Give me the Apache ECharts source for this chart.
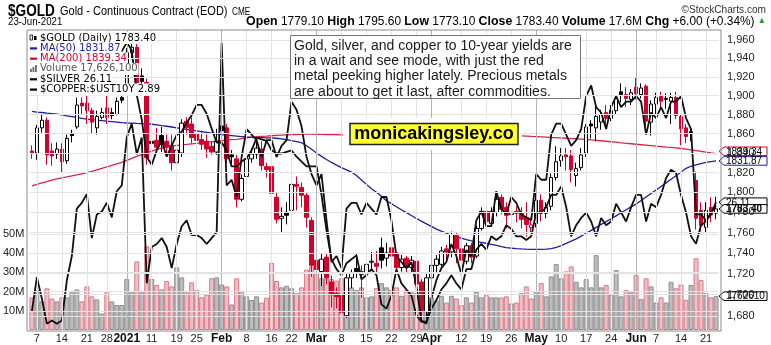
<!DOCTYPE html>
<html><head><meta charset="utf-8">
<script src="https://cdn.jsdelivr.net/npm/echarts@6/dist/echarts.min.js"></script>
<style>html,body{margin:0;padding:0;background:#fff}#c{width:771px;height:345px}</style>
</head><body><div id="c"></div><script>
// Trading days shown on the chart
const dates = [
'2020-12-04','2020-12-07','2020-12-08','2020-12-09','2020-12-10','2020-12-11',
'2020-12-14','2020-12-15','2020-12-16','2020-12-17','2020-12-18',
'2020-12-21','2020-12-22','2020-12-23','2020-12-24',
'2020-12-28','2020-12-29','2020-12-30','2020-12-31',
'2021-01-04','2021-01-05','2021-01-06','2021-01-07','2021-01-08',
'2021-01-11','2021-01-12','2021-01-13','2021-01-14','2021-01-15',
'2021-01-19','2021-01-20','2021-01-21','2021-01-22',
'2021-01-25','2021-01-26','2021-01-27','2021-01-28','2021-01-29',
'2021-02-01','2021-02-02','2021-02-03','2021-02-04','2021-02-05',
'2021-02-08','2021-02-09','2021-02-10','2021-02-11','2021-02-12',
'2021-02-16','2021-02-17','2021-02-18','2021-02-19',
'2021-02-22','2021-02-23','2021-02-24','2021-02-25','2021-02-26',
'2021-03-01','2021-03-02','2021-03-03','2021-03-04','2021-03-05',
'2021-03-08','2021-03-09','2021-03-10','2021-03-11','2021-03-12',
'2021-03-15','2021-03-16','2021-03-17','2021-03-18','2021-03-19',
'2021-03-22','2021-03-23','2021-03-24','2021-03-25','2021-03-26',
'2021-03-29','2021-03-30','2021-03-31','2021-04-01',
'2021-04-05','2021-04-06','2021-04-07','2021-04-08','2021-04-09',
'2021-04-12','2021-04-13','2021-04-14','2021-04-15','2021-04-16',
'2021-04-19','2021-04-20','2021-04-21','2021-04-22','2021-04-23',
'2021-04-26','2021-04-27','2021-04-28','2021-04-29','2021-04-30',
'2021-05-03','2021-05-04','2021-05-05','2021-05-06','2021-05-07',
'2021-05-10','2021-05-11','2021-05-12','2021-05-13','2021-05-14',
'2021-05-17','2021-05-18','2021-05-19','2021-05-20','2021-05-21',
'2021-05-24','2021-05-25','2021-05-26','2021-05-27','2021-05-28',
'2021-06-01','2021-06-02','2021-06-03','2021-06-04',
'2021-06-07','2021-06-08','2021-06-09','2021-06-10','2021-06-11',
'2021-06-14','2021-06-15','2021-06-16','2021-06-17','2021-06-18',
'2021-06-21','2021-06-22','2021-06-23'];

// Gold daily prices
const priorClose = 1841.2;
const opens = [1842,1840,1866,1874,1842,1839,1844,1832,1860,1867,1892,1892,1884,1866,1877,1887,1882,1880,1898,
1905,1946,1952,1921,1914,1852,1853,1858,1852,1848,1830,1840,1873,1870,1860,1854,1852,1847,1841,
1868,1866,1838,1834,1793,1816,1834,1839,1844,1826,1826,1795,1774,1780,1782,1808,1805,1797,1772,
1733,1722,1736,1712,1701,1700,1680,1716,1725,1722,1720,1731,1730,1745,1735,1745,1740,1726,1735,1726,1732,1712,1684,1716,
1728,1729,1744,1741,1757,1744,1732,1747,1737,1764,1781,1769,1780,1795,1785,1778,1781,1779,1775,1765,
1769,1792,1779,1786,1815,1832,1838,1837,1817,1825,1840,1870,1866,1872,1882,1876,1884,1904,1901,1896,
1909,1901,1910,1872,1891,1899,1897,1894,1898,1878,1866,1862,1812,1782,1765,1785,1779.1];
const highs = [1848,1869,1880,1877,1850,1851,1850,1859,1864,1898,1898,1906,1887,1884,1887,1900,1887,1898,1902,
1951,1959,1959,1929,1918,1856,1866,1867,1859,1859,1850,1875,1877,1877,1866,1863,1859,1852,1865,
1876,1870,1843,1838,1818,1838,1845,1855,1852,1830,1829,1800,1785,1790,1810,1816,1810,1800,1775,
1757,1740,1740,1718,1707,1703,1720,1724,1740,1728,1733,1741,1742,1755,1750,1748,1741,1738,1737,1737,1735,1715,1720,1733,
1738,1746,1748,1761,1760,1749,1750,1750,1767,1785,1791,1785,1797,1798,1790,1788,1786,1785,1790,1775,
1800,1798,1790,1819,1847,1845,1845,1843,1830,1845,1870,1874,1892,1885,1890,1890,1900,1913,1909,1907,
1919,1913,1912,1895,1903,1904,1902,1903,1904,1880,1870,1866,1821,1790,1790,1795,1795.6];
const lows = [1834,1833,1861,1828,1827,1834,1820,1829,1851,1865,1880,1870,1860,1859,1875,1870,1875,1879,1892,
1901,1940,1906,1903,1828,1817,1843,1841,1836,1822,1806,1836,1859,1850,1846,1843,1835,1838,1838,
1857,1830,1829,1785,1791,1811,1830,1834,1822,1815,1794,1769,1760,1768,1778,1782,1785,1765,1717,
1718,1708,1710,1688,1687,1676,1678,1706,1716,1697,1712,1724,1719,1725,1727,1725,1722,1722,1720,1720,1705,1680,1678,1708,
1721,1727,1732,1736,1730,1730,1729,1730,1735,1762,1761,1766,1776,1778,1764,1773,1770,1764,1756,1760,
1765,1771,1774,1782,1812,1826,1822,1810,1806,1822,1836,1855,1852,1864,1869,1873,1880,1893,1888,1890,
1896,1897,1867,1858,1880,1885,1886,1870,1875,1848,1850,1852,1763,1761,1760,1770,1773.1];
const closes = [1840,1866,1874,1838,1837,1844,1831,1855,1858,1890,1889,1884,1872,1878,1882,1877,1879,1894,1895,
1946,1952,1914,1915,1835,1850,1846,1849,1846,1830,1843,1871,1866,1856,1853,1849,1844,1841,1852,
1863,1834,1836,1793,1814,1834,1839,1845,1827,1823,1799,1773,1776,1777,1808,1806,1797,1775,1728,
1724,1734,1716,1700,1698,1683,1716,1721,1722,1719,1729,1732,1727,1733,1740,1737,1726,1734,1726,1733,1710,1685,1716,1728,
1734,1742,1741,1758,1744,1733,1747,1736,1764,1781,1771,1781,1793,1783,1777,1780,1779,1773,1768,1767.5,
1792,1779,1785,1815,1831,1837,1836,1823,1824,1838,1867,1868,1878,1880,1876,1884,1897,1901,1897,1903,
1902,1908,1873,1891,1898,1894,1896,1898,1879,1865,1857,1860,1774,1767,1782,1777.4,1783.4];
// Daily volume, millions
const volumes = [17.0,20.8,14.9,21.7,16.4,14.9,17.0,17.0,19.6,21.1,14.9,22.7,17.5,15.9,8.6,19.6,14.9,13.0,13.0,
26.5,19.6,35.7,19.6,43.6,26.5,23.4,21.1,25.5,22.7,32.6,27.4,19.6,24.8,20.8,17.0,18.5,26.9,27.4,
23.7,22.7,13.3,26.9,20.3,17.5,15.6,17.5,14.3,16.8,34.9,25.5,22.2,23.0,21.7,19.2,22.2,31.4,33.1,
30.0,26.9,26.9,26.5,25.7,26.9,26.5,22.2,20.8,22.2,17.0,17.5,21.8,24.4,22.2,21.0,22.2,17.8,20.8,19.6,19.2,20.4,20.8,17.0,
15.2,17.8,14.3,17.8,16.4,13.0,17.0,14.3,19.9,17.0,18.2,17.0,17.0,16.9,17.5,13.8,14.3,19.2,22.7,16.4,
20.3,24.4,17.5,27.9,34.3,26.9,30.5,33.1,25.1,22.2,26.5,22.2,39.0,22.2,23.4,18.2,31.2,17.5,20.8,19.6,
28.6,16.1,26.9,22.7,14.3,17.0,14.3,25.1,21.7,23.7,15.7,23.4,37.3,26.0,19.2,17.0,17.6261];
// Moving averages
const ma50 = [1883.2,1882.6,1882.1,1881.5,1881.0,1880.4,1879.5,1878.6,1877.8,1876.9,1876.0,1875.1,1874.6,1874.1,1873.6,1873.0,1872.5,1872.0,1871.4,
1871.1,1870.9,1870.6,1870.4,1870.1,1869.8,1869.2,1868.4,1867.7,1866.9,1866.1,1865.3,1864.5,1863.7,1862.9,1862.1,1861.3,1860.5,1859.7,
1859.0,1858.5,1858.0,1857.5,1857.0,1856.5,1856.1,1855.9,1855.8,1855.7,1855.5,1855.2,1854.6,1853.8,1852.8,1851.7,1850.6,1847.5,1843.8,
1840.0,1836.5,1833.3,1830.3,1827.5,1825.0,1822.8,1820.5,1817.0,1812.5,1808.0,1803.5,1800.0,1796.0,1791.5,1788.6,1785.6,1782.6,1779.7,1776.8,1773.9,1771.2,1768.6,1766.0,
1763.4,1761.3,1759.3,1757.4,1755.8,1754.4,1753.0,1751.9,1751.1,1750.3,1749.5,1748.4,1747.3,1746.1,1745.3,1744.8,1744.3,1743.9,1743.7,1743.6,
1743.6,1743.6,1743.8,1744.2,1745.5,1747.2,1749.3,1751.5,1753.8,1756.5,1759.3,1762.1,1765.1,1768.0,1770.8,1773.6,1776.5,1779.6,1782.5,1785.4,
1788.2,1791.7,1795.3,1798.8,1802.3,1805.9,1809.5,1813.1,1816.8,1820.6,1824.3,1826.4,1827.9,1829.2,1830.3,1831.1,1831.87];
const ma200 = [1806.6,1808.0,1809.4,1810.8,1812.3,1813.5,1814.5,1815.5,1816.6,1817.6,1818.7,1819.8,1821.2,1822.7,1824.2,1825.8,1827.3,1828.8,1830.3,
1832.4,1834.5,1836.6,1838.4,1840.2,1842.0,1843.6,1844.9,1846.2,1847.3,1847.8,1848.3,1848.8,1849.4,1850.0,1850.6,1851.1,1851.6,1852.2,
1852.7,1853.2,1853.7,1854.1,1854.9,1855.6,1856.3,1856.8,1857.1,1857.4,1857.8,1858.1,1858.4,1858.7,1858.9,1859.1,1859.3,1859.4,1859.4,
1859.3,1859.2,1859.1,1859.0,1858.9,1858.7,1858.6,1858.5,1858.5,1858.5,1858.5,1858.5,1858.4,1858.4,1858.4,1858.4,1858.3,1858.3,1858.3,1858.3,1858.2,1858.2,1858.2,1858.2,
1858.1,1858.1,1858.1,1858.1,1858.0,1858.0,1858.0,1858.0,1857.9,1857.9,1857.9,1857.9,1857.8,1857.8,1857.8,1857.7,1857.7,1857.6,1857.4,1857.1,
1856.9,1856.6,1856.3,1856.0,1855.8,1855.5,1855.2,1854.9,1854.7,1854.4,1854.1,1853.6,1853.1,1852.6,1852.1,1851.6,1851.1,1850.5,1850.0,1849.5,
1849.0,1848.5,1848.0,1847.5,1847.0,1846.6,1846.1,1845.7,1845.2,1844.6,1843.9,1843.1,1842.4,1841.6,1840.8,1840.0,1839.34];
// Overlays
const silver = [24.3,24.85,24.5,24.1,24.15,24.1,24.15,24.8,25.2,26.0,26.1,26.25,25.5,25.9,25.95,26.1,25.85,26.3,26.4,
27.25,27.5,26.95,27.25,24.75,25.35,25.4,25.5,25.35,25.0,25.4,25.7,25.8,25.55,25.55,25.5,25.4,25.5,25.6,
29.0,26.4,26.5,26.2,26.9,27.4,27.3,27.2,26.9,27.2,27.2,26.9,27.1,27.2,27.9,27.75,27.45,26.9,26.6,
26.4,26.6,25.8,25.1,25.2,25.0,26.0,26.1,26.1,25.9,26.1,26.0,25.9,26.2,26.2,25.8,25.2,25.1,25.0,25.1,24.7,24.15,24.1,24.5,
24.8,25.0,25.1,25.4,25.2,24.9,25.3,25.2,25.8,25.95,25.7,25.7,26.3,26.0,25.9,26.2,26.1,25.9,25.85,25.8,
26.6,26.5,26.5,27.3,27.5,27.5,27.3,27.1,27.2,27.4,28.0,28.2,27.8,27.7,27.4,27.8,28.0,27.8,27.9,27.9,
28.0,27.9,27.3,27.7,27.6,27.8,27.6,27.9,27.9,28.0,27.6,27.4,25.9,25.9,25.8,25.9,26.11];
const copperYield = [3.80,3.82,3.85,3.80,3.86,3.84,3.85,3.80,3.78,3.78,3.76,3.80,3.88,3.84,3.86,3.88,3.90,3.92,3.91,
3.98,3.92,3.59,3.42,3.18,3.13,3.22,3.28,3.18,3.25,3.32,3.34,3.40,3.45,3.52,3.52,3.46,3.36,3.27,
3.27,3.22,3.12,3.12,3.15,3.17,3.22,3.30,3.29,3.28,3.22,3.20,3.20,3.21,3.22,3.18,3.15,3.12,3.12,
3.12,2.95,2.75,2.60,2.55,2.52,2.58,2.60,2.62,2.50,2.52,2.55,2.52,2.38,2.36,2.42,2.55,2.48,2.45,2.42,2.33,2.30,2.30,2.36,
2.40,2.45,2.48,2.52,2.48,2.45,2.55,2.55,2.65,2.68,2.65,2.72,2.70,2.72,2.78,2.76,2.72,2.72,2.70,2.72,
2.85,2.85,2.88,2.95,2.95,3.00,2.88,2.72,2.78,2.82,2.85,2.80,2.72,2.82,2.78,2.80,2.90,2.85,2.80,2.88,
2.95,2.95,2.80,2.90,2.88,2.95,3.05,3.10,3.08,2.95,2.85,2.72,2.68,2.78,2.80,2.85,2.89];

// Axis labels
const priceTicks = [1680,1700,1720,1740,1760,1780,1800,1820,1840,1860,1880,1900,1920,1940,1960];
const volTicks = [10,20,30,40,50];
const tickDates = ['2020-12-07','2020-12-14','2020-12-21','2020-12-28','2021-01-04','2021-01-11','2021-01-19','2021-01-25',
'2021-02-01','2021-02-08','2021-02-16','2021-02-22','2021-03-01','2021-03-08','2021-03-15','2021-03-22','2021-03-29',
'2021-04-01','2021-04-12','2021-04-19','2021-04-26','2021-05-03','2021-05-10','2021-05-17','2021-05-24',
'2021-06-01','2021-06-07','2021-06-14','2021-06-21'];
const tickTexts = ['7','14','21','28','2021','11','19','25','Feb','8','16','22','Mar','8','15','22','29',
'Apr','12','19','26','May','10','17','24','Jun','7','14','21'];

const RED = '#d2002c', BLACK = '#000', BLUE = '#1e1e9e';
const N = dates.length, L = N - 1;
const gain = closes.map((c, i) => c >= (i === 0 ? priorClose : closes[i - 1]));

const candleData = dates.map((d, i) => {
  const col = gain[i] ? BLACK : RED;
  const fill = closes[i] >= opens[i] ? '#fff' : col;
  return { value: [opens[i], closes[i], lows[i], highs[i]],
    itemStyle: { color: fill, color0: fill, borderColor: col, borderColor0: col, borderWidth: 1 } };
});
const volData = volumes.map((v, i) => ({ value: v,
  itemStyle: gain[i] ? { color: '#bdbdbd', borderColor: '#8e8e8e' } : { color: '#efbfc5', borderColor: '#d9798a' } }));

const tickMap = {};
tickDates.forEach((d, j) => { tickMap[d] = tickTexts[j]; });
const isBold = t => /[A-Za-z]/.test(t) || t.length === 4;

const GRID_L = 27.5, GRID_R = 718.5, TOP = 30, BOTTOM = 331;
const chart = echarts.init(document.getElementById('c'));
const lab = 'Liberation Sans, Arial, sans-serif';

chart.setOption({
  animation: false,
  backgroundColor: '#fff',
  grid: { left: GRID_L, right: 771 - GRID_R, top: TOP, bottom: 345 - BOTTOM },
  xAxis: {
    type: 'category', data: dates, boundaryGap: true,
    axisLine: { show: false }, axisTick: { show: false }, splitLine: { show: false },
    axisLabel: {
      interval: (i, v) => tickMap[v] !== undefined, margin: 3,
      fontFamily: lab, fontSize: 11, color: '#222',
      formatter: v => { const t = tickMap[v]; return isBold(t) ? '{b|' + t + '}' : t; },
      rich: { b: { fontWeight: 'bold', fontSize: 12, fontFamily: lab, color: '#111' } }
    }
  },
  yAxis: [
    { type: 'log', logBase: 10, min: 1666.7, max: 1970.9, position: 'right', offset: 2.5,
      axisLine: { show: false }, axisTick: { show: false }, splitLine: { show: false },
      axisLabel: { customValues: priceTicks, margin: 6, fontFamily: lab, fontSize: 11, color: '#222' } },
    { type: 'value', min: 0, max: 156.2, position: 'left',
      axisLine: { show: false }, axisTick: { show: false }, splitLine: { show: false },
      axisLabel: { customValues: volTicks, margin: 5, fontFamily: lab, fontSize: 11, color: '#222',
        formatter: v => v + 'M' } },
    { type: 'log', min: 24.0, max: 29.25, show: false },
    { type: 'log', min: 2.263, max: 4.078, show: false }
  ],
  series: [
    { type: 'line', yAxisIndex: 0, data: dates.map(() => null), silent: true, z: 0,
      markLine: { silent: true, symbol: 'none', label: { show: false }, animation: false,
        data: priceTicks.map(v => ({ yAxis: v, lineStyle: { color: '#e3e3e3', width: 1, type: 'solid' } }))
          .concat(tickDates.map((d, j) => ({ xAxis: d,
            lineStyle: { color: isBold(tickTexts[j]) ? '#b4b4b4' : '#e3e3e3', width: 1, type: 'solid' } }))) } },
    { type: 'line', yAxisIndex: 1, data: dates.map(() => null), silent: true, z: 0,
      markLine: { silent: true, symbol: 'none', label: { show: false }, animation: false,
        data: volTicks.map(v => ({ yAxis: v, lineStyle: { color: '#e3e3e3', width: 1, type: 'solid' } })) } },
    { name: 'Volume', type: 'bar', yAxisIndex: 1, data: volData, barWidth: 5, z: 1,
      itemStyle: { borderWidth: 1 } },
    { name: 'MA(200)', type: 'line', yAxisIndex: 0, data: ma200, showSymbol: false, z: 2,
      lineStyle: { color: '#d8264a', width: 1.3 } },
    { name: 'MA(50)', type: 'line', yAxisIndex: 0, data: ma50, showSymbol: false, z: 2,
      lineStyle: { color: BLUE, width: 1.3 } },
    { name: '$GOLD', type: 'candlestick', yAxisIndex: 0, data: candleData, barWidth: 4, z: 3 },
    { name: '$SILVER', type: 'line', yAxisIndex: 2, data: silver, showSymbol: false, z: 4,
      lineStyle: { color: '#111', width: 1.8 } },
    { name: '$COPPER:$UST10Y', type: 'line', yAxisIndex: 3, data: copperYield, showSymbol: false, z: 4,
      lineStyle: { color: '#111', width: 1.8 } }
  ]
});

// Overlay graphics: frame, headers, legend, notes, value tags
const py = v => chart.convertToPixel({ yAxisIndex: 0 }, v);
const vy = v => chart.convertToPixel({ yAxisIndex: 1 }, v);
const sy = v => chart.convertToPixel({ yAxisIndex: 2 }, v);
const f2 = v => v.toFixed(2);
const dv = "'DejaVu Sans', Verdana, sans-serif";

// condensed header text: Arial squeezed horizontally
function htext(x, y, text, font, sx, extra) {
  return Object.assign({ type: 'text', z: 300, x: x, y: y, scaleX: sx,
    style: Object.assign({ x: 0, y: 0, text: text, font: font, fill: '#000', verticalAlign: 'middle' }, extra || {}) });
}

function tag(y, text, border, bold) {
  return { type: 'group', z: 300, children: [
    { type: 'polygon', shape: { points: [[719, y], [724, y - 4.3], [767, y - 4.3], [767, y + 4.3], [724, y + 4.3]] },
      style: { fill: '#fff', stroke: border, lineWidth: 1 } },
    { type: 'text', style: { x: 726, y: y + 0.6, text: text, fill: '#000', font: (bold ? 'bold ' : '') + '10px ' + lab,
      verticalAlign: 'middle', align: 'left', width: 41, overflow: 'truncate', ellipsis: '' } }
  ] };
}

// moving-average tags are nudged apart so both stay readable
const ma50Y = py(ma50[L]);
const ma200Y = Math.min(py(ma200[L]), ma50Y - 9.6);

const chg = closes[L] - closes[L - 1];
const legendRows = [
  { t: '$GOLD (Daily) ' + f2(closes[L]), c: '#000', icon: 'candle' },
  { t: 'MA(50) ' + f2(ma50[L]), c: BLUE, icon: 'dash' },
  { t: 'MA(200) ' + f2(ma200[L]), c: RED, icon: 'dash' },
  { t: 'Volume ' + Math.round(volumes[L] * 1e6).toLocaleString('en-US'), c: '#555', icon: 'bars' },
  { t: '$SILVER ' + f2(silver[L]), c: '#000', icon: 'dash' },
  { t: '$COPPER:$UST10Y ' + f2(copperYield[L]), c: '#000', icon: 'dash' }
];
const legend = [];
legendRows.forEach((r, j) => {
  const y = 38 + j * 10.3;
  legend.push({ type: 'text', z: 250, style: { x: 39, y: y, text: r.t, fill: r.c, font: '10px ' + dv,
    verticalAlign: 'middle', backgroundColor: '#fff', padding: [1, 1] } });
  legend.push({ type: 'rect', z: 249, shape: { x: 28, y: y - 5.5, width: 11, height: 11 }, style: { fill: '#fff' } });
  if (r.icon === 'dash') legend.push({ type: 'rect', z: 251, shape: { x: 30, y: y - 1, width: 7, height: 2.2 }, style: { fill: r.c } });
  if (r.icon === 'bars') [[30, 3], [32.5, 5], [35, 7]].forEach(b => legend.push({ type: 'rect', z: 251,
    shape: { x: b[0], y: y + 3 - b[1], width: 1.8, height: b[1] }, style: { fill: '#666' } }));
  if (r.icon === 'candle') {
    legend.push({ type: 'rect', z: 251, shape: { x: 30, y: y - 3, width: 2.5, height: 5 }, style: { fill: '#fff', stroke: '#000', lineWidth: 0.8 } });
    legend.push({ type: 'rect', z: 251, shape: { x: 34, y: y - 2, width: 2.5, height: 4 }, style: { fill: '#000' } });
  }
});

const quote = '{b|Open} ' + f2(opens[L]) + ' {b|High} ' + f2(highs[L]) + ' {b|Low} ' + f2(lows[L]) +
  ' {b|Close} ' + f2(closes[L]) + ' {b|Volume} ' + volumes[L].toFixed(1) + 'M {b|Chg} ' + (chg >= 0 ? '+' : '') + f2(chg) +
  ' (' + (chg >= 0 ? '+' : '') + f2(chg / closes[L - 1] * 100) + '%) {g|\u25b2}';

const graphics = [
  { type: 'rect', z: 5, silent: true, shape: { x: 27, y: TOP, width: 721 - 27, height: BOTTOM - TOP },
    style: { fill: 'none', stroke: '#8c8c8c', lineWidth: 1 } },
  htext(8, 11.5, '$GOLD', 'bold 17px ' + lab, 0.8),
  htext(60, 12, 'Gold - Continuous Contract (EOD)', '12.5px ' + lab, 0.88),
  htext(232, 12.5, 'CME', '10px ' + lab, 0.82),
  htext(8, 22, '23-Jun-2021', '11px ' + lab, 0.88),
  htext(766, 9.5, '\u00a9StockCharts.com', '11.5px ' + lab, 0.88, { align: 'right', fill: '#333' }),
  htext(766, 21, quote, '13px ' + lab, 0.915, { align: 'right',
    rich: { b: { font: 'bold 13.5px ' + lab, fill: '#000' }, g: { font: '9px ' + lab, fill: '#2a9a2a' } } }),
  // commentary box
  { type: 'rect', z: 260, shape: { x: 290.5, y: 35.5, width: 290, height: 63 }, style: { fill: '#fff', stroke: '#777', lineWidth: 1 } },
  { type: 'text', z: 261, style: { x: 294, y: 38.5, font: '14px ' + lab, fill: '#1a1a1a', lineHeight: 15.2,
    text: 'Gold, silver, and copper to 10-year yields are\nin a wait and see mode, with just the red\nmetal peeking higher lately. Precious metals\nare about to get it last, after commodities.' } },
  // site badge
  { type: 'rect', z: 260, shape: { x: 343, y: 118, width: 179, height: 32 }, style: { fill: '#fff' } },
  { type: 'rect', z: 261, shape: { x: 350, y: 123.5, width: 168, height: 21 }, style: { fill: '#ffff33', stroke: '#222', lineWidth: 1.5 } },
  { type: 'text', z: 262, style: { x: 434, y: 134.5, text: 'monicakingsley.co', font: 'bold 18px ' + lab, fill: '#000', align: 'center', verticalAlign: 'middle' } },
  tag(sy(silver[L]), f2(silver[L]), '#000', false),
  tag(py(closes[L]), f2(closes[L]), '#000', true),
  tag(ma50Y, f2(ma50[L]), BLUE, false),
  tag(ma200Y, f2(ma200[L]), RED, false),
  tag(vy(volumes[L]), String(Math.round(volumes[L] * 1e6)), '#000', false)
].concat(legend);

chart.setOption({ graphic: graphics });
</script></body></html>
